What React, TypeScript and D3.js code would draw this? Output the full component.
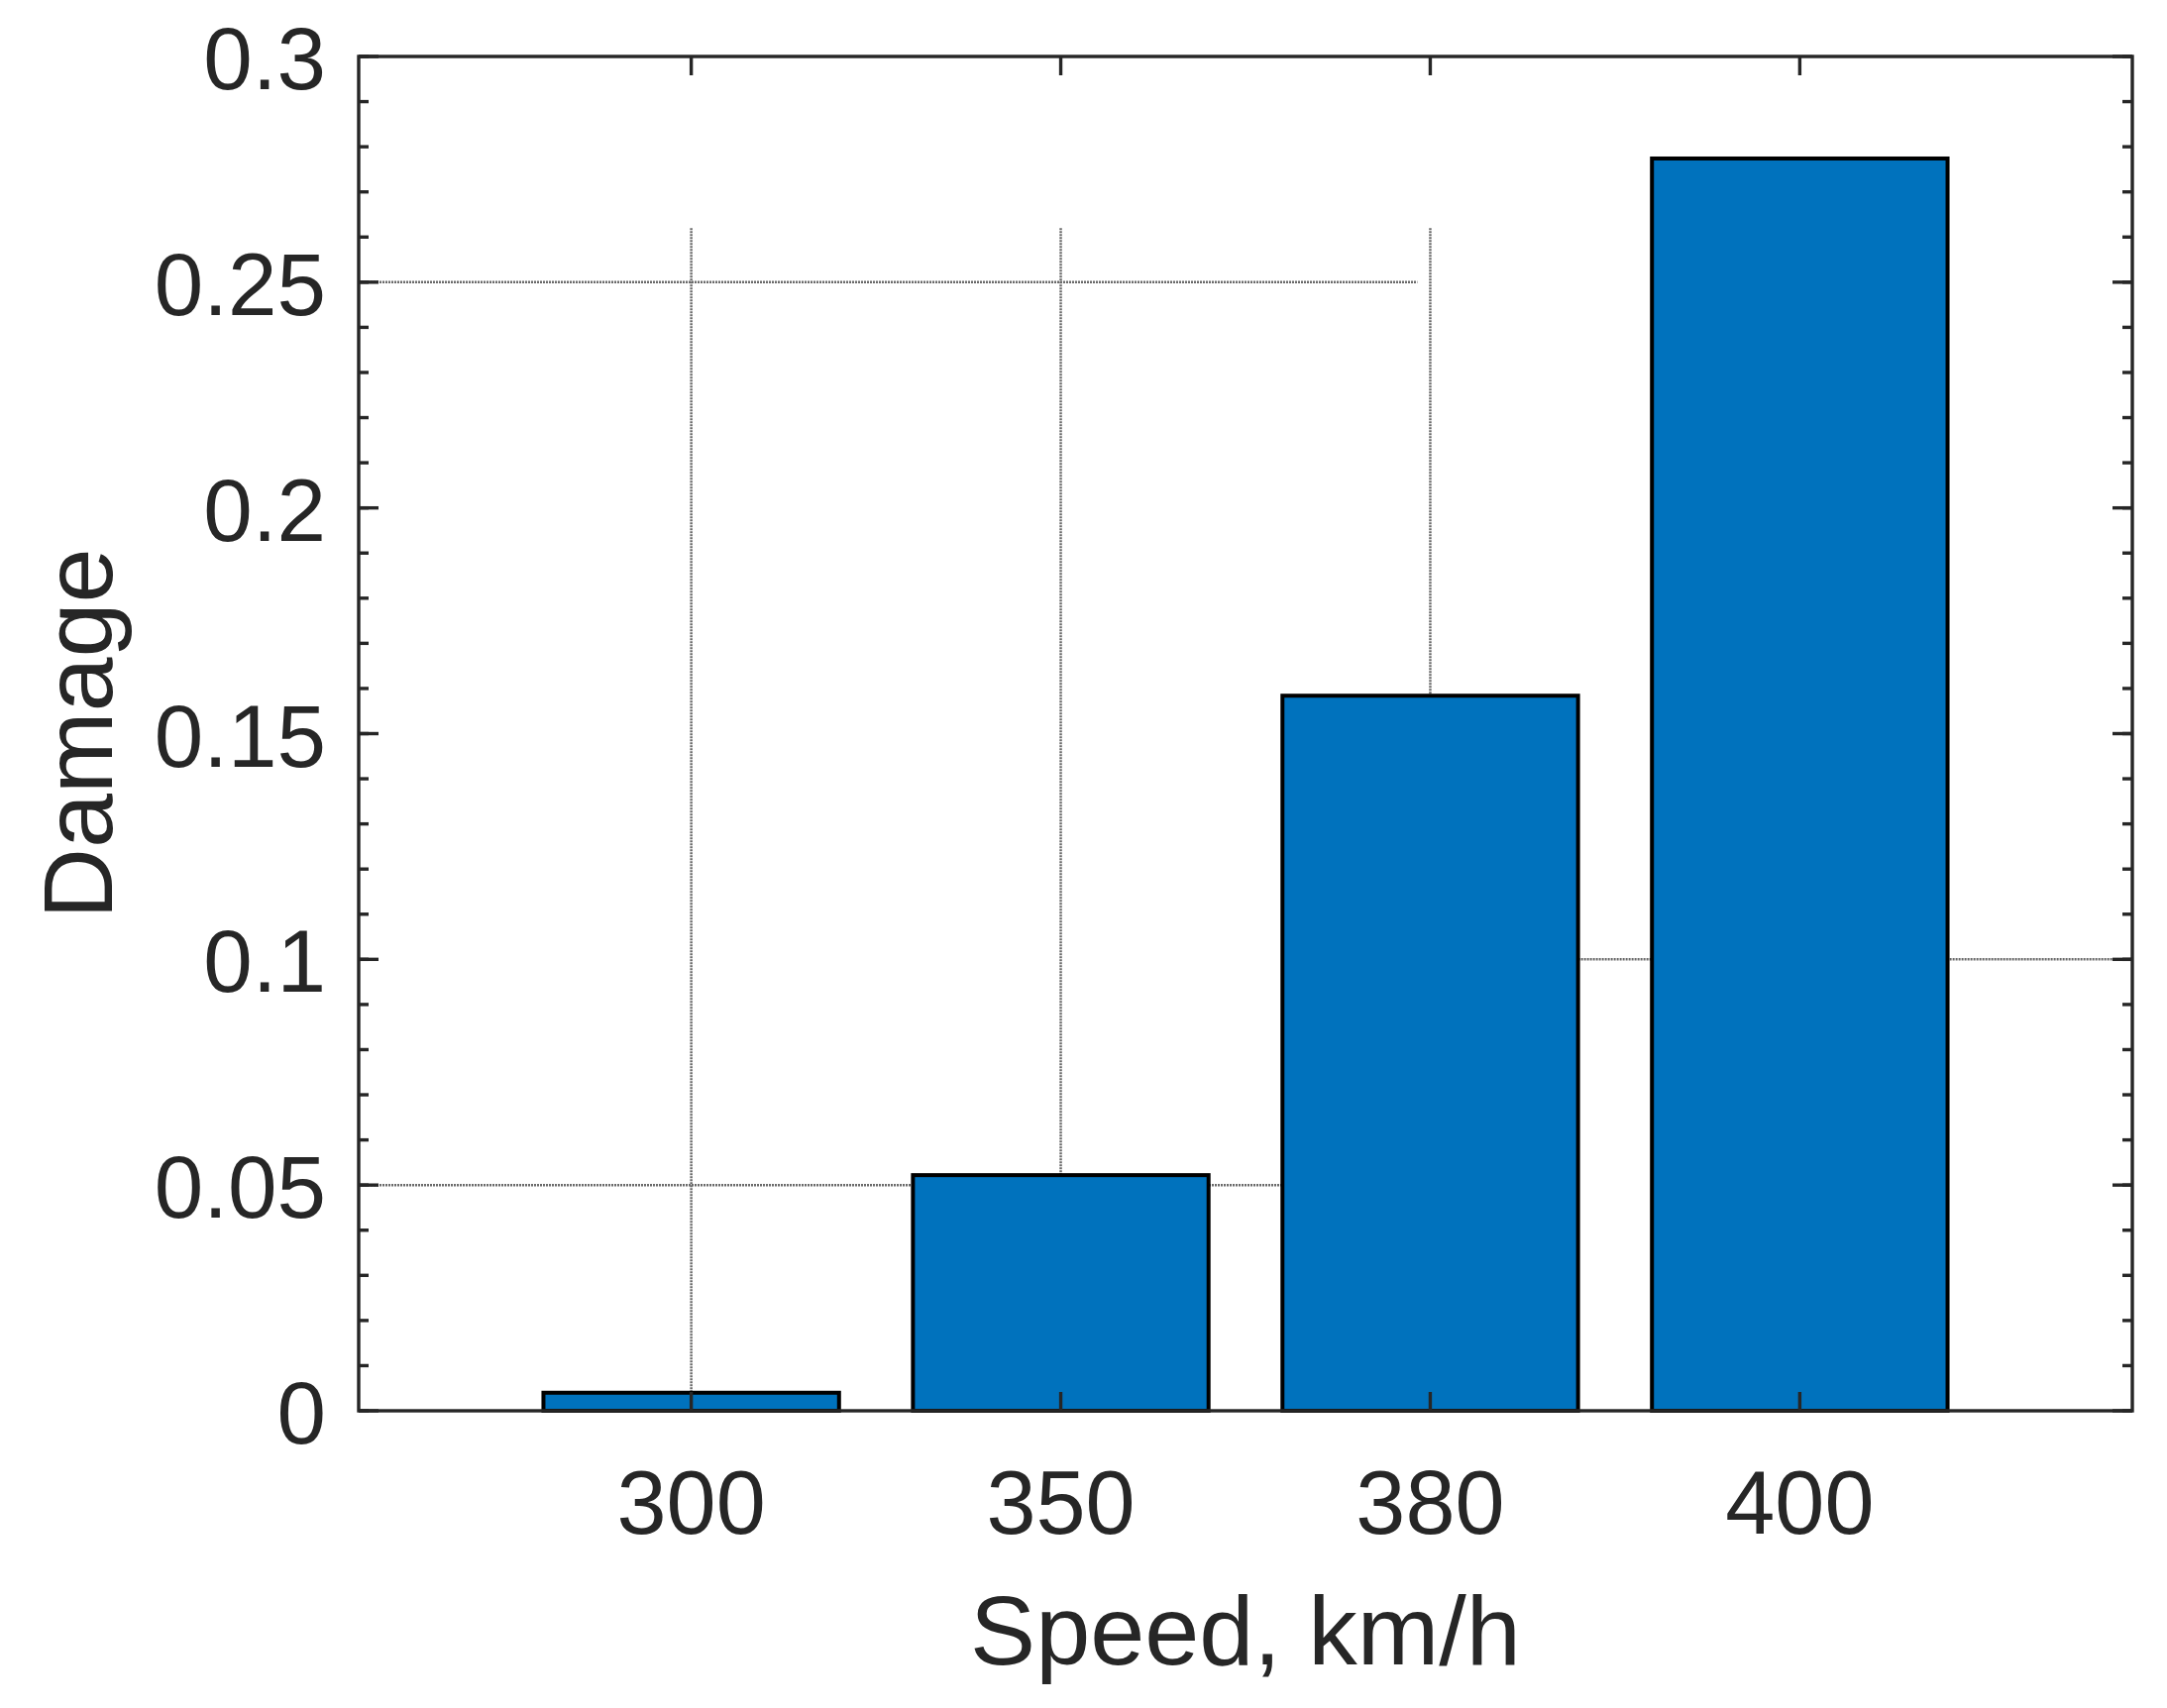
import React from "react";
import * as d3 from "d3";

const speeds = ["300", "350", "380", "400"];
const damage = [0.004, 0.0522, 0.1584, 0.2774];
const yTickValues = [0, 0.05, 0.1, 0.15, 0.2, 0.25, 0.3];
const yTickLabels = ["0", "0.05", "0.1", "0.15", "0.2", "0.25", "0.3"];
const yMinorValues = d3.range(0, 31).map((i) => i / 100);
// visible gridline pieces (value, from-position, to-position)
const hGridValues = [0.25, 0.05, 0.1];
const hGridFrom = [0.1, 0.1, 3.4];
const hGridTo = [2.965, 2.6, 4.9];
const vGridTop = 0.262;

const W = 2187;
const H = 1724;
const L = 362;
const R = 2152;
const T = 57;
const B = 1424;
const ink = "#262626";
const font = "'Liberation Sans', Arial, Helvetica, sans-serif";

export default function App() {
  const x = d3.scaleLinear().domain([0.1, speeds.length + 0.9]).range([L, R]);
  const y = d3.scaleLinear().domain([0, 0.3]).range([B, T]);
  const barW = x(1.8) - x(1);
  const pos = speeds.map((_, i) => i + 1);
  const gridStyle = { stroke: "#6a6a6a", strokeWidth: 2.5, strokeDasharray: "2 1" };

  return (
    <svg
      width={W}
      height={H}
      style={{ position: "absolute", left: 0, top: 0, background: "#fff" }}
      fontFamily={font}
    >
      <rect x={0} y={0} width={W} height={H} fill="#fff" />
      {/* gridlines */}
      {hGridValues.map((v, i) => (
        <line key={"hg" + i} x1={x(hGridFrom[i])} x2={x(hGridTo[i])} y1={y(v)} y2={y(v)} {...gridStyle} />
      ))}
      {pos.map((p, i) => (
        <line key={"vg" + i} x1={x(p)} x2={x(p)} y1={y(vGridTop)} y2={y(0)} {...gridStyle} />
      ))}
      {/* bars */}
      {damage.map((d, i) => (
        <rect
          key={"b" + i}
          x={x(pos[i]) - barW / 2}
          y={y(d)}
          width={barW}
          height={y(0) - y(d)}
          fill="#0072BD"
          stroke="#000"
          strokeWidth={4}
        />
      ))}
      {/* axes box */}
      <rect x={L} y={T} width={R - L} height={B - T} fill="none" stroke={ink} strokeWidth={3.4} />
      {/* y minor ticks */}
      {yMinorValues.map((v, i) => (
        <g key={"ym" + i}>
          <line x1={L} x2={L + 10} y1={y(v)} y2={y(v)} stroke={ink} strokeWidth={3.4} />
          <line x1={R} x2={R - 10} y1={y(v)} y2={y(v)} stroke={ink} strokeWidth={3.4} />
        </g>
      ))}
      {/* y major ticks + labels */}
      {yTickValues.map((v, i) => (
        <g key={"yt" + i}>
          <line x1={L} x2={L + 20} y1={y(v)} y2={y(v)} stroke={ink} strokeWidth={3.4} />
          <line x1={R} x2={R - 20} y1={y(v)} y2={y(v)} stroke={ink} strokeWidth={3.4} />
          <text x={L - 33} y={y(v) + 33} textAnchor="end" fontSize={89} fill={ink}>
            {yTickLabels[i]}
          </text>
        </g>
      ))}
      {/* x ticks + labels */}
      {pos.map((p, i) => (
        <g key={"xt" + i}>
          <line x1={x(p)} x2={x(p)} y1={B} y2={B - 19} stroke={ink} strokeWidth={3.4} />
          <line x1={x(p)} x2={x(p)} y1={T} y2={T + 19} stroke={ink} strokeWidth={3.4} />
          <text x={x(p)} y={1548} textAnchor="middle" fontSize={90} fill={ink}>
            {speeds[i]}
          </text>
        </g>
      ))}
      {/* axis labels */}
      <text x={(L + R) / 2} y={1680} textAnchor="middle" fontSize={99} fill={ink}>
        Speed, km/h
      </text>
      <text
        transform={`translate(113, ${(T + B) / 2}) rotate(-90)`}
        textAnchor="middle"
        fontSize={99}
        fill={ink}
      >
        Damage
      </text>
    </svg>
  );
}
